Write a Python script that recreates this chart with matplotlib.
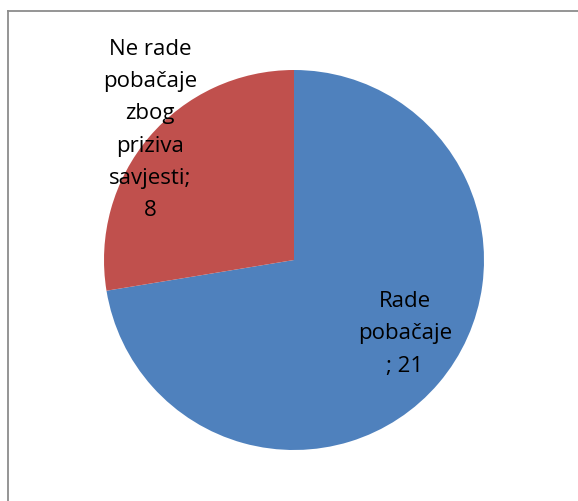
import matplotlib.pyplot as plt
from matplotlib.lines import Line2D

labels = ["Rade\npobačaje\n; 21", "Ne rade\npobačaje\nzbog\npriziva\nsavjesti;\n8"]
values = [21, 8]
colors = ["#4F81BD", "#C0504D"]

W, H = 578, 502
fig = plt.figure(figsize=(W / 100, H / 100), dpi=100)
ax = fig.add_axes([0, 0, 1, 1])
ax.set_xlim(0, W)
ax.set_ylim(0, H)
ax.set_aspect("equal")
ax.axis("off")

# pie, centre and radius in pixel units
cx, cy, r = 294, H - 261, 190
ax.pie(values, colors=colors, startangle=90, counterclock=False,
       center=(cx, cy), radius=r, wedgeprops=dict(linewidth=0))
ax.set_xlim(0, W)
ax.set_ylim(0, H)

# data labels
ax.text(150, H - 130, labels[1], ha="center", va="center", fontsize=16,
        family="Open Sans", linespacing=1.7)
ax.text(405, H - 334, labels[0], ha="center", va="center", fontsize=16,
        family="Open Sans", linespacing=1.7)

# chart frame (only left and top visible)
fig.add_artist(Line2D([7.5 / W, 7.5 / W], [0, 1 - 11.5 / H], color="#8c8c8c", lw=1.3, transform=fig.transFigure))
fig.add_artist(Line2D([7.5 / W, 1], [1 - 11.5 / H, 1 - 11.5 / H], color="#8c8c8c", lw=1.3, transform=fig.transFigure))

fig.savefig("out.png", dpi=100)
